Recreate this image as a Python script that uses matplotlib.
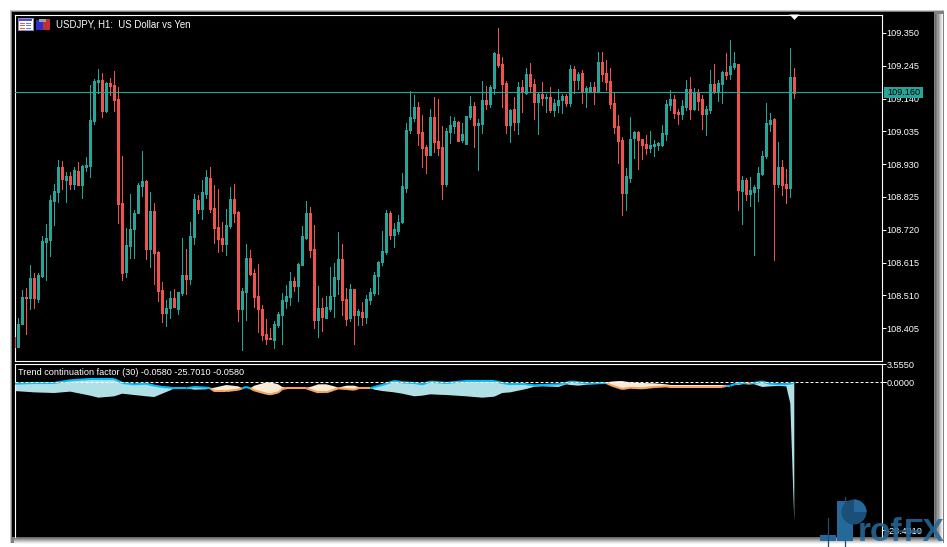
import matplotlib
matplotlib.use('Agg')

import numpy as np
import matplotlib.pyplot as plt
from matplotlib.patches import Rectangle, Polygon, Wedge

W, H = 947, 547

# USDJPY H1 candles
opens = [
    108.378,108.346,108.417,108.505,108.502,108.566,108.499,108.572,108.681,108.688,
    108.812,108.841,108.921,108.880,108.892,108.867,108.908,108.864,108.921,108.924,
    109.068,109.193,109.200,109.100,109.190,109.184,109.139,108.806,108.585,108.668,
    108.723,108.774,108.860,108.876,108.659,108.780,108.649,108.528,108.454,108.470,
    108.502,108.467,108.518,108.576,108.563,108.697,108.816,108.787,108.835,108.886,
    108.790,108.729,108.694,108.675,108.732,108.819,108.777,108.467,108.521,108.630,
    108.582,108.508,108.467,108.387,108.374,108.368,108.416,108.448,108.492,108.505,
    108.556,108.540,108.608,108.694,108.774,108.659,108.432,108.470,108.438,108.467,
    108.508,108.563,108.627,108.499,108.438,108.531,108.448,108.457,108.441,108.496,
    108.518,108.572,108.617,108.649,108.774,108.704,108.716,108.745,108.854,109.040,
    109.078,109.113,109.033,108.985,108.960,109.081,109.004,108.985,108.867,109.033,
    109.052,109.065,109.008,108.995,109.081,109.116,109.056,109.059,109.136,109.123,
    109.174,109.283,109.251,109.190,109.056,109.107,109.065,109.177,109.158,109.219,
    109.187,109.129,109.155,109.142,109.145,109.104,109.120,109.136,109.148,109.126,
    109.235,109.200,109.222,109.161,109.161,109.177,109.164,109.257,109.222,109.196,
    109.126,109.052,109.008,108.838,108.886,109.014,109.033,109.011,108.995,108.982,
    108.988,108.992,108.992,109.027,109.120,109.139,109.097,109.091,109.113,109.171,
    109.107,109.161,109.139,109.091,109.104,109.187,109.161,109.187,109.225,109.219,
    109.241,109.251,108.844,108.880,108.835,108.841,108.854,108.899,108.956,109.059,
    109.075,108.867,108.921,108.867,108.854,109.209,
]
closes = [
    108.346,108.419,108.505,108.502,108.566,108.502,108.575,108.684,108.694,108.816,
    108.844,108.921,108.883,108.892,108.867,108.912,108.864,108.924,108.928,109.072,
    109.195,109.200,109.100,109.190,109.180,109.136,108.803,108.582,108.672,108.723,
    108.774,108.864,108.876,108.659,108.780,108.646,108.524,108.454,108.470,108.502,
    108.473,108.521,108.576,108.563,108.700,108.819,108.787,108.841,108.889,108.787,
    108.726,108.691,108.675,108.736,108.819,108.774,108.467,108.524,108.630,108.579,
    108.505,108.467,108.384,108.371,108.371,108.419,108.451,108.496,108.508,108.556,
    108.540,108.611,108.700,108.774,108.656,108.432,108.470,108.441,108.473,108.508,
    108.569,108.627,108.496,108.435,108.531,108.448,108.460,108.441,108.499,108.521,
    108.576,108.617,108.652,108.774,108.704,108.723,108.745,108.860,109.040,109.081,
    109.113,109.030,108.982,108.960,109.081,109.001,108.982,108.867,109.036,109.056,
    109.068,109.004,109.027,109.084,109.116,109.056,109.062,109.136,109.123,109.177,
    109.286,109.248,109.187,109.056,109.104,109.065,109.177,109.161,109.219,109.180,
    109.129,109.155,109.142,109.145,109.104,109.126,109.136,109.148,109.126,109.235,
    109.200,109.219,109.161,109.174,109.177,109.161,109.257,109.219,109.193,109.123,
    109.049,109.004,108.838,108.892,109.011,109.033,109.008,108.992,108.982,108.992,
    108.995,108.998,109.030,109.123,109.139,109.094,109.091,109.116,109.171,109.107,
    109.161,109.132,109.091,109.107,109.187,109.164,109.190,109.225,109.216,109.244,
    109.254,108.848,108.880,108.835,108.848,108.857,108.902,108.956,109.062,109.072,
    108.867,108.921,108.864,108.854,109.209,109.158,
]
highs = [
    108.378,108.437,108.528,108.533,108.607,108.581,108.581,108.700,108.738,108.832,
    108.867,108.944,108.940,108.905,108.905,108.920,108.937,108.928,108.953,109.184,
    109.202,109.235,109.222,109.193,109.206,109.228,109.177,108.956,108.726,108.835,
    108.784,108.870,108.972,108.880,108.841,108.806,108.652,108.553,108.496,108.524,
    108.531,108.521,108.694,108.659,108.745,108.835,108.832,108.880,108.912,108.921,
    108.864,108.851,108.745,108.787,108.857,108.867,108.780,108.534,108.675,108.656,
    108.595,108.611,108.480,108.435,108.406,108.428,108.457,108.518,108.544,108.585,
    108.569,108.614,108.732,108.812,108.793,108.736,108.540,108.502,108.508,108.601,
    108.614,108.713,108.675,108.534,108.547,108.531,108.467,108.489,108.512,108.534,
    108.585,108.620,108.716,108.784,108.780,108.742,108.768,108.902,109.062,109.164,
    109.152,109.129,109.088,108.992,109.107,109.145,109.139,109.052,109.046,109.084,
    109.081,109.068,109.062,109.084,109.148,109.129,109.075,109.196,109.180,109.184,
    109.289,109.366,109.273,109.196,109.107,109.145,109.193,109.200,109.238,109.254,
    109.203,109.161,109.193,109.155,109.177,109.139,109.171,109.155,109.155,109.248,
    109.244,109.225,109.232,109.180,109.193,109.193,109.289,109.289,109.264,109.238,
    109.161,109.088,109.017,108.918,109.081,109.036,109.036,109.011,109.024,109.036,
    109.008,109.001,109.056,109.136,109.168,109.152,109.107,109.136,109.200,109.209,
    109.174,109.171,109.152,109.116,109.232,109.251,109.200,109.228,109.286,109.328,
    109.289,109.251,108.892,108.886,108.889,108.864,108.921,108.972,109.126,109.094,
    109.078,109.001,108.944,108.915,109.302,109.238,
]
lows = [
    108.346,108.346,108.417,108.388,108.467,108.471,108.489,108.570,108.560,108.636,
    108.736,108.809,108.851,108.809,108.851,108.851,108.864,108.822,108.908,108.889,
    109.059,109.158,109.081,109.097,109.152,109.100,108.742,108.560,108.569,108.630,
    108.630,108.774,108.828,108.627,108.601,108.547,108.492,108.425,108.412,108.438,
    108.473,108.451,108.512,108.515,108.547,108.675,108.774,108.755,108.822,108.777,
    108.678,108.649,108.652,108.640,108.726,108.745,108.428,108.336,108.432,108.576,
    108.473,108.393,108.368,108.355,108.371,108.342,108.409,108.355,108.470,108.480,
    108.524,108.492,108.608,108.691,108.633,108.406,108.377,108.396,108.438,108.460,
    108.441,108.515,108.448,108.416,108.428,108.355,108.416,108.416,108.422,108.483,
    108.512,108.515,108.608,108.643,108.691,108.665,108.707,108.742,108.841,109.030,
    109.068,108.992,108.921,108.902,108.960,108.969,108.960,108.819,108.860,108.998,
    109.030,109.004,109.001,108.995,109.075,108.985,108.912,109.030,109.107,109.113,
    109.155,109.241,109.113,109.030,109.001,109.040,109.027,109.097,109.155,109.161,
    109.075,109.027,109.120,109.097,109.097,109.084,109.097,109.094,109.116,109.116,
    109.158,109.171,109.126,109.113,109.161,109.123,109.164,109.196,109.168,109.110,
    109.030,108.934,108.768,108.784,108.873,108.950,108.915,108.947,108.963,108.969,
    108.956,108.976,108.988,109.008,109.104,109.078,109.059,109.075,109.104,109.075,
    109.104,109.104,109.043,109.024,109.094,109.158,109.132,109.126,109.203,109.203,
    109.235,108.784,108.739,108.816,108.796,108.640,108.812,108.896,108.950,109.036,
    108.624,108.857,108.832,108.806,108.825,109.142,
]
current_price = 109.160
price_ticks = [109.350, 109.245, 109.140, 109.035, 108.930, 108.825, 108.720, 108.615, 108.510, 108.405]

# Trend continuation factor, read at the bars where its shape changes
tcf_bars = [
    0,5,10,14,19,21,25,27,30,33,35,37,39,40,43,45,48,49,50,53,56,57,58,59,60,63,64,66,67,68,
    73,74,76,78,80,81,83,85,86,89,90,92,95,97,100,102,104,108,113,117,120,122,124,128,130,132,
    136,138,139,141,144,147,148,149,151,152,154,157,160,163,164,170,177,178,179,180,181,183,184,
    185,187,189,191,193,194,195,
]
tcf_line = [
    -0.23,-0.09,-0.09,0.42,0.67,0.67,0.67,-0.09,-0.35,-0.23,-0.61,-0.86,-1.00,-1.12,-1.12,-0.86,-1.00,-1.12,-1.64,-1.64,
    -1.38,-1.12,-0.86,-1.12,-1.51,-2.15,-2.28,-1.90,-1.25,-1.12,
    -1.12,-1.38,-1.90,-1.90,-1.38,-1.12,-1.25,-1.38,-1.12,-1.12,-0.86,-0.48,0.28,0.03,-0.09,-0.35,0.16,-0.09,0.28,0.28,
    0.28,-0.09,-0.35,-0.35,-0.55,-0.48,
    -0.35,-0.09,0.16,0.03,-0.23,-0.09,-0.09,-0.48,-1.00,-1.25,-1.00,-1.12,-0.86,-0.74,-0.86,-0.86,-0.86,-0.61,-0.61,-0.35,
    -0.09,-0.16,-0.23,
    -0.09,0.16,-0.23,-0.35,-0.30,-0.23,-0.058,
]
tcf_edge = [
    -1.64,-1.90,-2.02,-1.76,-2.53,-2.92,-2.66,-2.15,-2.41,-2.66,-2.79,-2.15,-1.51,-1.12,-1.12,-1.38,-1.32,-1.12,-1.00,-0.48,
    -0.74,-1.12,-1.00,-1.12,-0.61,0.03,0.03,-0.35,-0.86,-1.00,
    -1.00,-0.86,-0.35,-0.35,-0.74,-1.00,-0.61,-0.61,-0.86,-1.00,-1.38,-1.64,-1.90,-2.15,-2.66,-2.53,-2.28,-2.41,-2.66,-2.92,
    -2.73,-2.02,-1.90,-1.25,-0.81,-0.74,
    -0.86,-0.35,-0.48,-0.61,-0.35,-0.16,-0.09,0.16,0.28,0.28,0.03,-0.09,-0.16,-0.35,-0.48,-0.48,-0.48,-0.61,-0.61,-0.35,
    -0.48,-0.16,-0.09,
    -0.35,-0.86,-0.74,-0.67,-0.74,-4.01,-26.85,
]
tcf_ticks = [3.555, 0.0, -28.481]

TEAL = '#26A69A'
RED = '#EF5350'
TEXT = '#FFFFFF'
FS = 6.6

plt.rcParams['font.family'] = 'Liberation Sans'

fig = plt.figure(figsize=(W / 100, H / 100), dpi=100, facecolor='white')


def pane(left, top, right, bottom, zorder=2):
    return fig.add_axes([left / W, 1 - bottom / H, (right - left) / W, (bottom - top) / H], zorder=zorder)


# window frame in pixel coordinates
bg = pane(0, 0, W, H, zorder=0)
bg.set_xlim(0, W)
bg.set_ylim(H, 0)
bg.axis('off')
for i, c in enumerate(['#c8c8c8', '#a8a8a8', '#808080']):
    bg.add_patch(Rectangle((10 + i * 0.7, 10 + i * 0.7), 934 - i * 0.7, 533 - i * 0.7, color=c, lw=0))
for i, c in enumerate(['#f4f4f4', '#e2e2e2', '#cccccc', '#b4b4b4', '#9a9a9a', '#808080', '#6a6a6a']):
    bg.add_patch(Rectangle((942 - i * 1.2, 14), 1.3, 529 - i, color=c, lw=0))
    bg.add_patch(Rectangle((14, 543 - i), 929 - i, 1.1, color=c, lw=0))
bg.add_patch(Rectangle((12, 12), 922, 525, color='black', lw=0))

# candles
ax = pane(14.5, 14.5, 881.5, 361)
ax.set_facecolor('black')
ax.set_xlim(0.05, 216.8)
ax.set_ylim(108.300, 109.409)

bars = np.arange(len(opens))
o = np.array(opens)
c = np.array(closes)
colors = [TEAL if b > a else RED for a, b in zip(o, c)]
body_lo = np.minimum(o, c)
body_hi = np.maximum(np.maximum(o, c), body_lo + 0.0032)
ax.vlines(bars, lows, highs, colors=colors, lw=0.72, antialiased=False, zorder=2)
body = ax.vlines(bars, body_lo, body_hi, colors=colors, lw=2.16, antialiased=False, zorder=3)
body.set_capstyle('butt')
ax.axhline(current_price, color=TEAL, lw=0.8, zorder=4)

ax.set_xticks([])
ax.yaxis.tick_right()
ax.set_yticks(price_ticks)
ax.set_yticklabels(['%.3f' % p for p in price_ticks])
ax.tick_params(axis='y', length=3.0, width=0.72, color=TEXT, labelcolor=TEXT, labelsize=FS, pad=0.8)
for s in ax.spines.values():
    s.set_color(TEXT)
    s.set_linewidth(0.8)

ax.text(0.0475, 0.972, 'USDJPY, H1:  US Dollar vs Yen', transform=ax.transAxes, color=TEXT, fontsize=6.9,
        va='center', ha='left', zorder=6)

# indicator pane
ax2 = pane(14.5, 364, 881.5, 537)
ax2.set_facecolor('black')
ax2.set_xlim(0.05, 216.8)
ax2.set_ylim(-29.74, 3.561)

tb = np.array(tcf_bars, dtype=float)
tl = np.array(tcf_line)
te = np.array(tcf_edge)
ax2.fill_between(tb, tl, te, where=tl >= te, interpolate=True, color='#B0E0E6', lw=0, zorder=2)
ax2.fill_between(tb, tl, te, where=tl <= te, interpolate=True, color='#FAEBD7', lw=0, zorder=2)
for k in range(len(tb) - 1):
    up = tl[k] + tl[k + 1] >= te[k] + te[k + 1]
    ax2.plot(tb[k:k + 2], tl[k:k + 2], color='#00BFFF' if up else '#F4A460', lw=1.5, zorder=3,
             solid_capstyle='butt')
ax2.plot([0.05, 217.9], [0, 0], color=TEXT, lw=0.72, ls=(0, (3, 2)), zorder=4, clip_on=False)

ax2.set_xticks([])
ax2.yaxis.tick_right()
ax2.set_yticks(tcf_ticks)
ax2.set_yticklabels(['%.4f' % v for v in tcf_ticks])
ax2.tick_params(axis='y', length=3.0, width=0.72, color=TEXT, labelcolor=TEXT, labelsize=FS, pad=0.8)
for s in ax2.spines.values():
    s.set_color(TEXT)
    s.set_linewidth(0.8)
ax2.spines['bottom'].set_visible(False)
ax2.text(0.004, 0.95, 'Trend continuation factor (30) -0.0580 -25.7010 -0.0580', transform=ax2.transAxes,
         color=TEXT, fontsize=FS, va='center', ha='left', zorder=6)

# icons, marker, price box and watermark on top, in pixel coordinates
top = pane(0, 0, W, H, zorder=5)
top.set_xlim(0, W)
top.set_ylim(H, 0)
top.axis('off')
top.patch.set_alpha(0)
top.add_patch(Polygon([[789.5, 14.5], [799.5, 14.5], [794.5, 20]], color='white', lw=0))

top.add_patch(Rectangle((884, 87), 39, 11, fc=TEAL, lw=0))
top.text(903.5, 92.7, '%.3f' % current_price, color='black', fontsize=FS, va='center', ha='center')

top.add_patch(Rectangle((18, 18), 15, 12, fc='white', ec='#9090d0', lw=0.6))
top.add_patch(Rectangle((19, 19), 13, 2, fc='#5050d0', lw=0))
for yy in [22.5, 25, 27.5]:
    top.add_patch(Rectangle((20, yy), 5, 1.2, fc='#e06040', lw=0))
    top.add_patch(Rectangle((26, yy), 5, 1.2, fc='#6080e0', lw=0))
top.add_patch(Rectangle((35.5, 20), 7.5, 10, fc='#3030c8', lw=0))
top.add_patch(Rectangle((43, 19), 6.5, 11, fc='#c03030', lw=0))
top.add_patch(Rectangle((39, 18.5), 7, 3.5, fc='#a0a0a0', lw=0))

LOGO = '#25689a'
DARK = '#1b4f78'
top.add_patch(Rectangle((837, 501), 16, 40, fc=LOGO, lw=0, zorder=3))
top.add_patch(Wedge((854, 512), 12.5, 0, 360, fc=DARK, lw=0, zorder=4))
top.add_patch(Wedge((854, 512), 12.5, -90, 0, fc=LOGO, lw=0, zorder=5))
top.add_patch(Rectangle((820, 535), 16, 6, fc=LOGO, lw=0, zorder=3))
top.plot([828, 828], [518, 547], color=DARK, lw=0.9, zorder=3)
top.plot([845, 845], [497, 503], color=DARK, lw=0.9, zorder=6)
top.plot([845, 845], [541, 547], color=DARK, lw=0.9, zorder=6)
top.add_patch(Rectangle((892, 530), 18, 2, fc=DARK, lw=0, alpha=0.8, zorder=3))
top.text(858, 541, 'rof', color=LOGO, fontsize=24, fontweight='bold', va='baseline', ha='left', alpha=0.88, zorder=3)
top.text(945, 541, 'FX', color=LOGO, fontsize=23, fontweight='bold', va='baseline', ha='right', alpha=0.88, zorder=3)

fig.savefig('out.png', dpi=100, facecolor=fig.get_facecolor())
